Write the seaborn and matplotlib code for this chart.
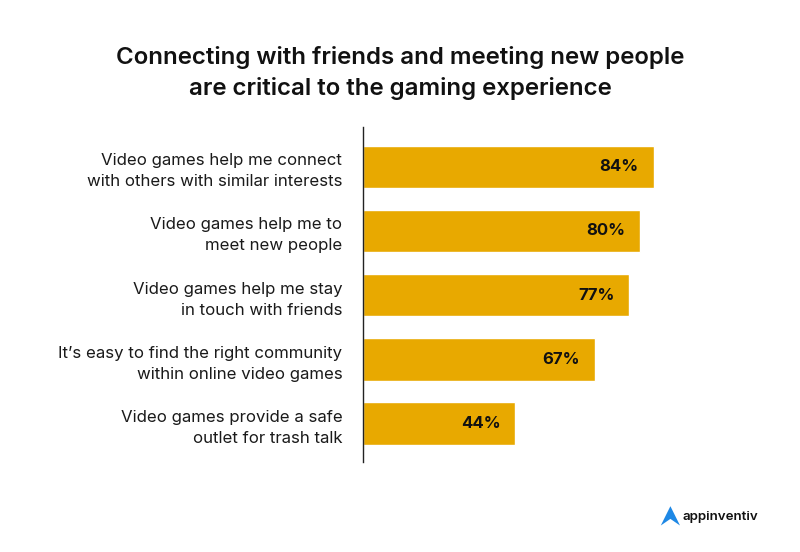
import matplotlib
matplotlib.use("Agg")
import matplotlib.pyplot as plt
import pandas as pd
import seaborn as sns
from matplotlib.patches import Polygon

# Chart data
statements = [
    "Video games help me connect\nwith others with similar interests",
    "Video games help me to\nmeet new people",
    "Video games help me stay\nin touch with friends",
    "It\u2019s easy to find the right community\nwithin online video games",
    "Video games provide a safe\noutlet for trash talk",
]
shares = [84, 80, 77, 67, 44]

title = "Connecting with friends and meeting new people\nare critical to the gaming experience"
BAR_COLOR = "#E8A900"

df = pd.DataFrame({"statement": statements, "share": shares})

sns.set_theme(style="white")
plt.rcParams["font.family"] = ["Inter", "DejaVu Sans"]

fig = plt.figure(figsize=(8, 5.52), dpi=100)
ax = fig.add_axes([0.454, 0.163, 0.432, 0.607])

sns.barplot(data=df, x="share", y="statement", color=BAR_COLOR,
            saturation=1, width=0.66, ax=ax)

ax.set_xlim(0, 100)
ax.set_ylim(4.6, -0.62)
ax.set_xlabel("")
ax.set_ylabel("")
ax.set_xticks([])
ax.set_yticklabels(statements, fontsize=12.1, color="#1a1a1a",
                   ha="right", linespacing=1.5)
ax.tick_params(axis="y", length=0, pad=15)
for side in ["top", "right", "bottom"]:
    ax.spines[side].set_visible(False)
ax.spines["left"].set_color("#222222")
ax.spines["left"].set_linewidth(1.0)

# value labels inside bars
for i, v in enumerate(shares):
    ax.text(v - 4.3, i, f"{v}%", ha="right", va="center",
            fontsize=12, fontweight="bold", color="#111111")

fig.text(0.5, 0.868, title, ha="center", va="center", fontsize=17.3,
         fontweight="semibold", color="#111111", linespacing=1.45)

# logo
fig.patches.append(Polygon([[0.826, 0.048], [0.838, 0.083], [0.850, 0.048],
                            [0.838, 0.060]], closed=True,
                           transform=fig.transFigure, facecolor="#1E88E5",
                           edgecolor="none"))
fig.text(0.853, 0.064, "appinventiv", ha="left", va="center", fontsize=9.6,
         fontweight="semibold", color="#111111")

fig.savefig("out.png", dpi=100, facecolor="white")
